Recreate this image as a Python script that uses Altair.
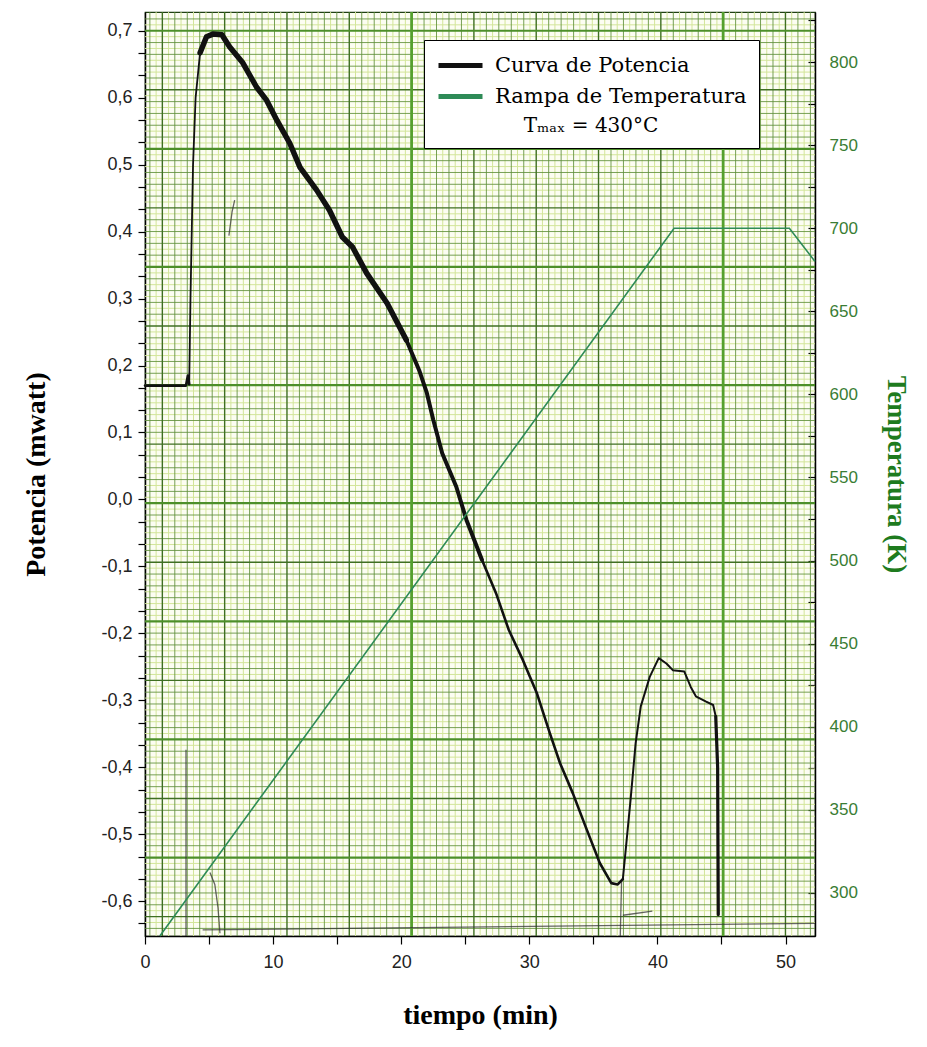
import altair as alt
import pandas as pd
import numpy as np

# ---------------- data ----------------
tiempo_potencia = [0.0, 3.2, 3.35, 3.45, 3.55, 3.75, 3.95, 4.3, 4.8, 5.3, 6.0, 6.6, 7.6, 8.7,
                   9.5, 10.3, 11.3, 12.1, 13.4, 14.4, 15.4, 16.2, 17.3, 18.9, 20.4, 21.4, 22.0,
                   22.5, 23.2, 24.3, 25.1, 26.3, 27.4, 28.4, 29.5, 30.6, 31.6, 32.4, 33.4, 34.4,
                   35.5, 36.4, 36.9, 37.3, 37.5, 37.9, 38.3, 38.7, 39.4, 40.1, 40.7, 41.2, 42.1,
                   42.6, 43.0, 43.8, 44.35, 44.55, 44.7, 44.75]
potencia = [0.170, 0.170, 0.185, 0.172, 0.300, 0.500, 0.600, 0.667, 0.691, 0.695, 0.694, 0.676,
            0.653, 0.616, 0.596, 0.566, 0.532, 0.496, 0.462, 0.432, 0.392, 0.377, 0.338, 0.293,
            0.238, 0.193, 0.159, 0.119, 0.069, 0.019, -0.031, -0.090, -0.140, -0.195, -0.240,
            -0.290, -0.349, -0.394, -0.439, -0.489, -0.543, -0.573, -0.575, -0.567, -0.528,
            -0.449, -0.364, -0.309, -0.265, -0.237, -0.245, -0.255, -0.257, -0.280, -0.294,
            -0.302, -0.307, -0.324, -0.400, -0.620]

tiempo_temp = [1.16, 41.3, 50.3, 52.3]
temperatura = [274.1, 700.0, 700.0, 680.0]

# stray pen marks on the recorder paper
trazo_id = ["a", "a", "b", "b", "b", "b", "c", "c", "c", "d", "d", "e", "e", "f", "f"]
trazo_t = [3.2, 3.2, 5.07, 5.45, 5.7, 5.85, 6.55, 6.8, 7.0, 4.5, 52.3, 37.2, 37.1, 37.3, 39.6]
trazo_p = [-0.374, -0.652, -0.557, -0.575, -0.61, -0.648, 0.394, 0.43, 0.447, -0.643, -0.633,
           -0.57, -0.652, -0.621, -0.615]

series = ["Curva de Potencia", "Rampa de Temperatura"]
series_colors = ["#111111", "#2e8b57"]
legend_note = "Tₘₐₓ = 430°C"

x_ticks = list(range(0, 55, 5))
pot_ticks = [round(i / 30, 4) for i in range(-19, 22)]
temp_ticks = list(range(300, 850, 25))

X_DOM = [0, 52.3]
P_DOM = [-0.652, 0.728]
T_DOM = [274.1, 830.1]

# ---------------- tables ----------------
df_pot = pd.DataFrame({"t": tiempo_potencia, "p": potencia, "serie": series[0]})
df_temp = pd.DataFrame({"t": tiempo_temp, "T": temperatura, "serie": series[1]})
df_trazo = pd.DataFrame({"id": trazo_id, "t": trazo_t, "p": trazo_p})
df_trazo["orden"] = range(len(df_trazo))

# chart-paper grid (decoration)
step_v, base_v = 0.9728, 20.81
kv = np.arange(-22, 34)
tv = base_v + step_v * kv
ok = (tv > 0.15) & (tv < X_DOM[1] - 0.1)
grid_v_minor = pd.DataFrame({"t": tv[ok & (kv % 5 != 0)]})
grid_v_med = pd.DataFrame({"t": tv[ok & (kv % 5 == 0) & (kv != 0) & (kv != 25)]})
grid_v_heavy = pd.DataFrame({"t": [base_v, base_v + 25 * step_v]})
tvp = tv + step_v / 2
grid_v_pale = pd.DataFrame({"t": tvp[(tvp > 0.15) & (tvp < X_DOM[1] - 0.1)]})

step_h = 0.01764
kh = np.arange(-2, 80)
ph = 0.7 - step_h * kh
okh = (ph > P_DOM[0] + 0.003) & (ph < P_DOM[1] - 0.003)
grid_h_minor = pd.DataFrame({"p": ph[okh & (kh % 5 != 0)]})
grid_h_med = pd.DataFrame({"p": ph[okh & (kh % 5 == 0) & (kh % 10 != 0)]})
grid_h_heavy = pd.DataFrame({"p": ph[okh & (kh % 10 == 0)]})
php = ph + step_h / 2
grid_h_pale = pd.DataFrame({"p": php[(php > P_DOM[0] + 0.003) & (php < P_DOM[1] - 0.003)]})

# ---------------- scales / axes ----------------
x_axis = alt.Axis(
    values=x_ticks,
    labelExpr="datum.value % 10 === 0 ? '' + datum.value : ''",
    title="tiempo (min)", titleFont="Liberation Serif", titleFontSize=28,
    titleFontWeight="bold", titleColor="black", titlePadding=30,
    labelFont="Liberation Sans", labelFontSize=18, labelColor="#222", labelPadding=9,
    labelFlush=False,
    tickColor="black", tickSize=8, tickWidth=1.2, domainColor="black", domainWidth=1.5,
    grid=False,
)
X = alt.X("t:Q", scale=alt.Scale(domain=X_DOM, nice=False, zero=False), axis=x_axis)

y_axis = alt.Axis(
    values=pot_ticks,
    labelExpr="abs(datum.value*10 - round(datum.value*10)) < 0.01 ? "
              "replace(replace(format(datum.value, '.1f'), '.', ','), '\u2212', '-') : ''",
    title="Potencia (mwatt)", titleFont="Liberation Serif", titleFontSize=28,
    titleFontWeight="bold", titleColor="black", titlePadding=50,
    labelFont="Liberation Sans", labelFontSize=18, labelColor="#222", labelPadding=6,
    tickColor="black", tickSize=7, tickWidth=1.2, domainColor="black", domainWidth=1.5,
    grid=False,
)
Y = alt.Y("p:Q", scale=alt.Scale(domain=P_DOM, nice=False, zero=False), axis=y_axis)

t_scale = alt.Scale(domain=T_DOM, nice=False, zero=False)
t_axis_labels = alt.Axis(
    orient="right", values=temp_ticks,
    labelExpr="datum.value % 50 === 0 ? '' + datum.value : ''",
    title="Temperatura (K)", titleFont="Liberation Serif", titleFontSize=27,
    titleFontWeight="bold", titleColor="#1e7b1e", titlePadding=24,
    labelFont="Liberation Sans", labelFontSize=17, labelColor="#3a7d34", labelPadding=14,
    ticks=False, domainColor="black", domainWidth=1.5, grid=False,
)
t_axis_ticks = alt.Axis(
    orient="left", offset=-670, values=temp_ticks, labels=False, domain=False,
    tickColor="black", tickSize=7, tickWidth=1.2, grid=False, title=None,
)

color = alt.Color(
    "serie:N",
    scale=alt.Scale(domain=series, range=series_colors),
    legend=alt.Legend(
        title=legend_note, orient="none", legendX=279, legendY=28,
        titleOrient="bottom", titleAnchor="middle", titleAlign="center",
        titleFont="DejaVu Serif", titleFontSize=20, titleFontWeight="normal",
        titleColor="black", titlePadding=9,
        labelFont="DejaVu Serif", labelFontSize=21, labelColor="black", labelLimit=400,
        labelOffset=32, symbolType="M-1,0H3", symbolSize=484, symbolStrokeWidth=5,
        rowPadding=7, padding=12, fillColor="white", strokeColor="black", zindex=1,
    ),
)

# ---------------- layers ----------------
def vrule(df, col, w, op=1.0):
    return alt.Chart(df).mark_rule(color=col, strokeWidth=w, opacity=op).encode(x=X)

def hrule(df, col, w, op=1.0):
    return alt.Chart(df).mark_rule(color=col, strokeWidth=w, opacity=op).encode(y=Y)

grid = [
    vrule(grid_v_pale, "#d3e59a", 1),
    hrule(grid_h_pale, "#d3e59a", 1),
    vrule(grid_v_minor, "#5f8f3a", 1, 0.85),
    hrule(grid_h_minor, "#5f8f3a", 1, 0.85),
    vrule(grid_v_med, "#3f6f22", 1.4),
    hrule(grid_h_med, "#3f6f22", 1.4),
    hrule(grid_h_heavy, "#4d8f2a", 2.2),
    vrule(grid_v_heavy, "#55a02e", 2.8),
]

trazos = alt.Chart(df_trazo).mark_line(color="#333333", strokeWidth=1.3, opacity=0.75).encode(
    x=X, y=Y, detail="id:N", order="orden:Q"
)

def seg(lo, hi, w):
    return alt.Chart(df_pot).transform_filter(
        f"datum.t >= {lo} && datum.t <= {hi}"
    ).mark_line(strokeWidth=w, strokeJoin="round", strokeCap="round").encode(
        x=X, y=Y, color=color, order="t:Q"
    )

power = [
    seg(0, 3.45, 2.6),
    seg(3.45, 4.3, 1.8),
    seg(4.3, 20.4, 5.5),
    seg(20.4, 26.3, 4.0),
    seg(26.3, 37.3, 2.6),
    seg(37.3, 44.55, 2.0),
    seg(44.55, 45, 3.2),
]

left = alt.layer(*grid, trazos, *power)

temp_line = alt.Chart(df_temp).mark_line(strokeWidth=1.6).encode(
    x=X, y=alt.Y("T:Q", scale=t_scale, axis=t_axis_labels), color=color
)
temp_ticks_layer = alt.Chart(df_temp).mark_line(opacity=0).encode(
    x=X, y=alt.Y("T:Q", scale=t_scale, axis=t_axis_ticks)
)
right = alt.layer(temp_line, temp_ticks_layer).resolve_axis(y="independent")

chart = alt.layer(left, right).resolve_scale(y="independent").properties(
    width=670, height=924,
    autosize=alt.AutoSizeParams(type="none"),
    padding={"left": 137, "top": 4, "right": 102, "bottom": 100},
    background="white",
).configure_view(
    fill="#fcfdf2", stroke="#1f3f12", strokeWidth=1.2
)

chart.save("out.html", embed_options={"renderer": "svg", "actions": False})
